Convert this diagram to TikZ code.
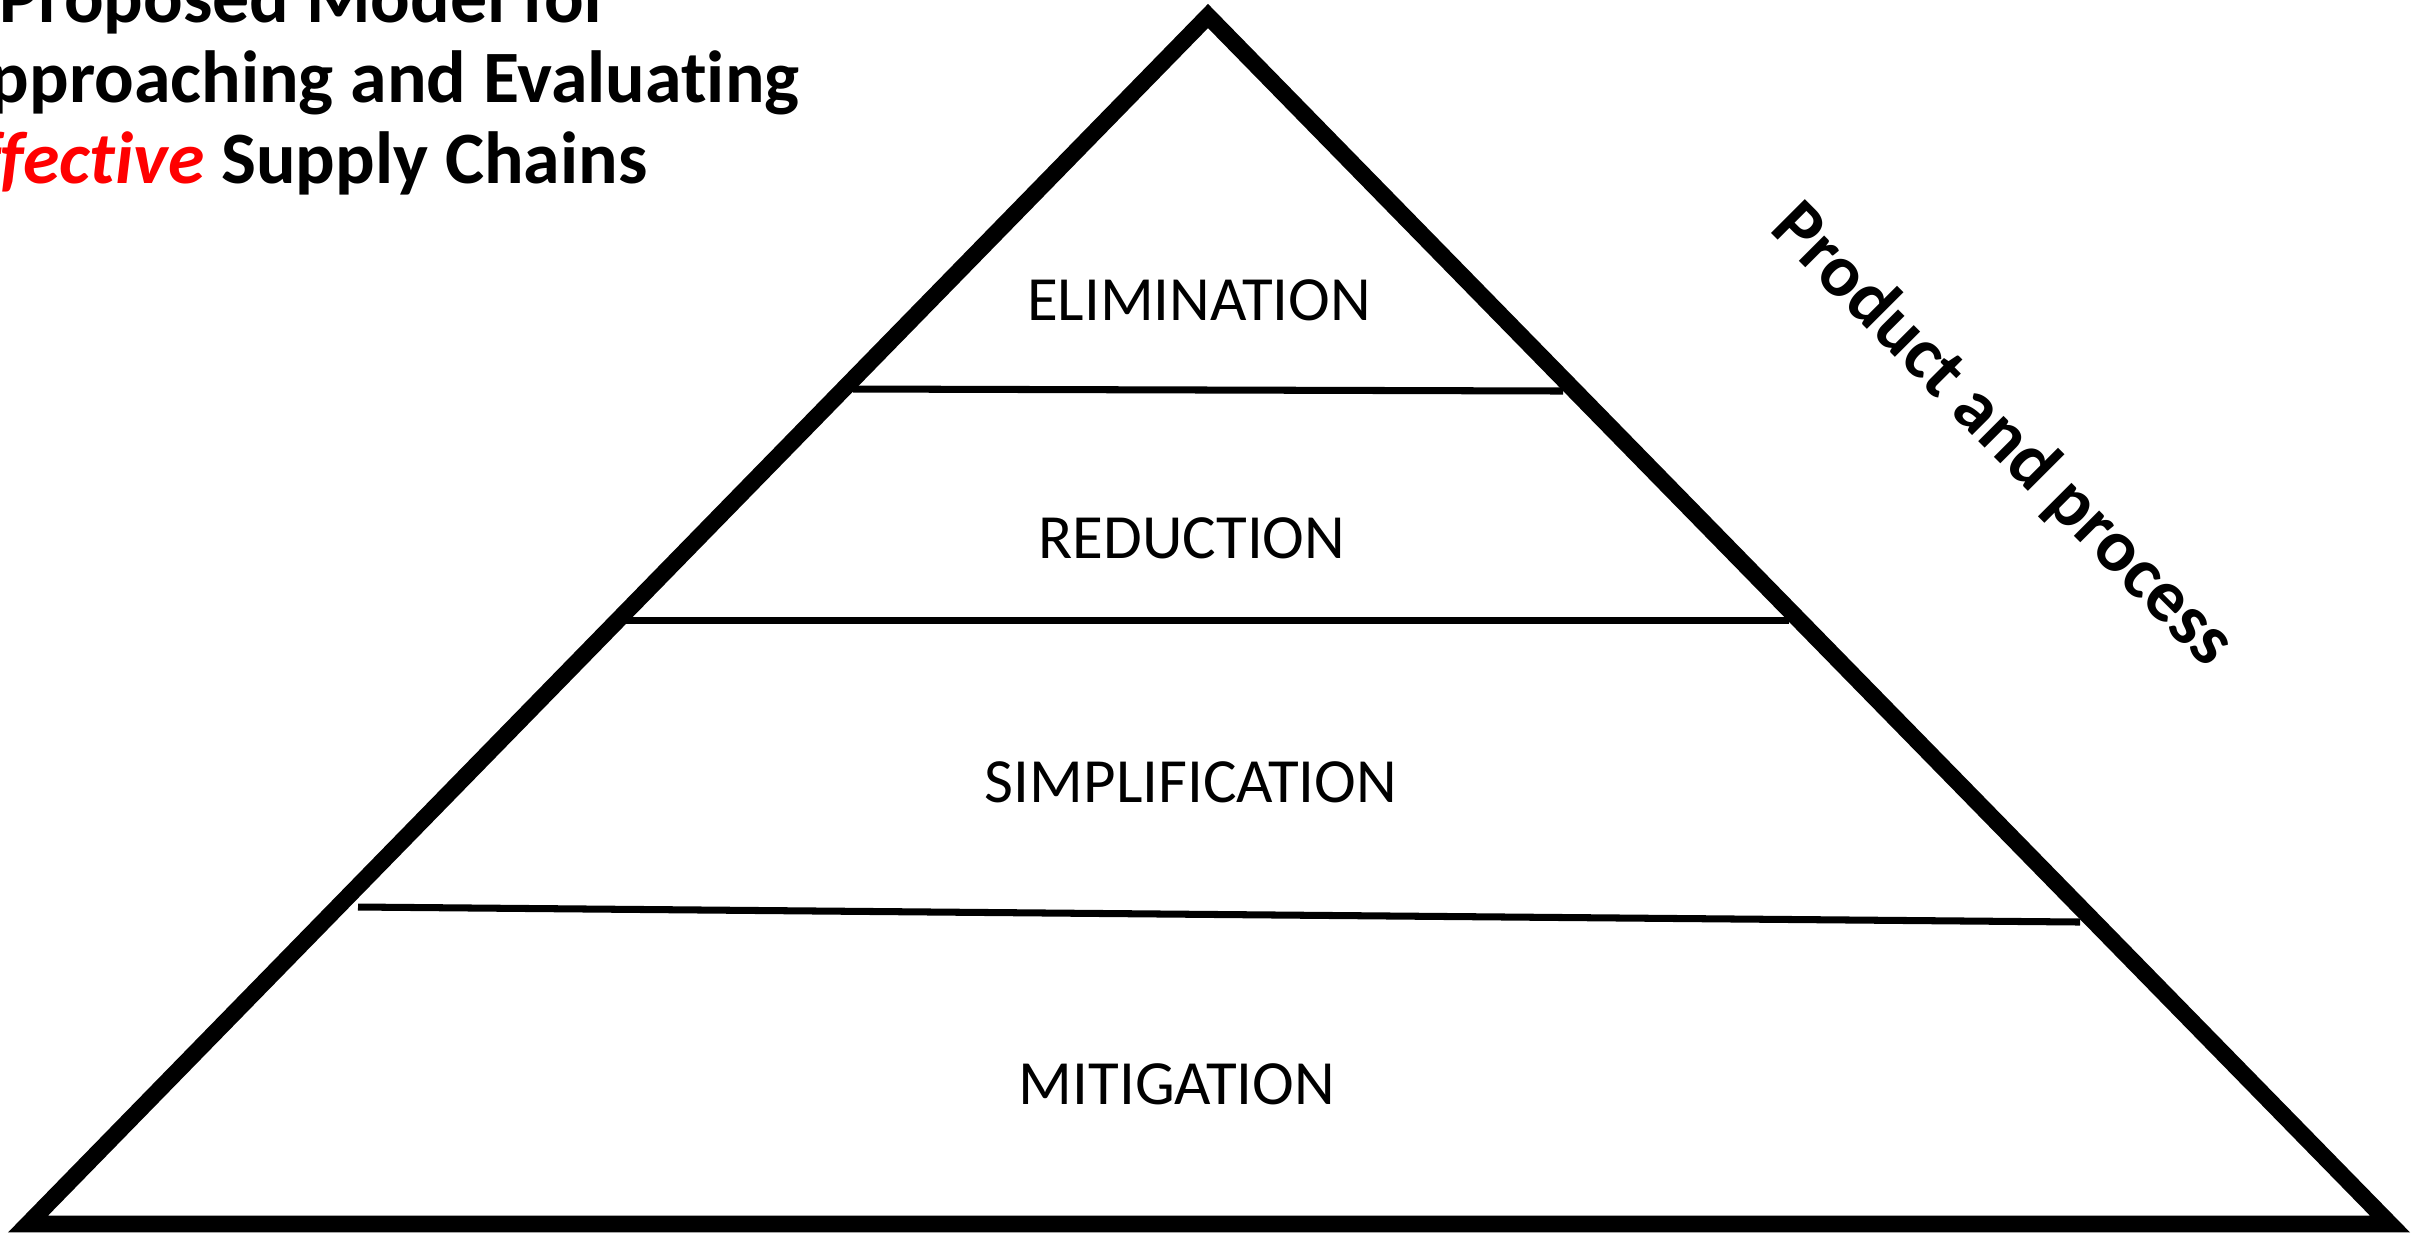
\documentclass[tikz,border=0pt]{standalone}
\usepackage{fontspec}
\setmainfont{Carlito}[Ligatures={NoCommon}]
\definecolor{accentred}{RGB}{255,0,0}
\tikzset{
  pyramid/.style={draw=black, line width=4.8pt, line join=miter},
  tier/.style={draw=black, line width=2pt},
  tierlabel/.style={inner sep=0pt, font=\fontsize{17.9}{21}\selectfont},
  titleline/.style={inner sep=0pt, anchor=base east, font=\fontsize{21}{23}\selectfont\bfseries},
  sidetext/.style={inner sep=0pt, font=\fontsize{21}{23}\selectfont\bfseries}
}
\begin{document}
\begin{tikzpicture}[x=0.01cm, y=-0.01cm]
  % page area (pixel grid, y pointing down)
  \clip (0,0) rectangle (2412,1232);
  \useasboundingbox (0,0) rectangle (2412,1232);

  % title block, partly running off the left edge
  \node[titleline] (title1) at (611,22) {Proposed Model for};
  \node[titleline] (title2) at (800,102) {Approaching and Evaluating};
  \node[titleline] (title3) at (648,183) {\textcolor{accentred}{\itshape Effective} Supply Chains};

  % pyramid outline
  \coordinate (apex) at (1208,16);
  \coordinate (baseL) at (28,1224);
  \coordinate (baseR) at (2390,1224);
  \draw[pyramid] (baseL) -- (apex) -- (baseR) -- cycle;

  % tier dividers
  \coordinate (d1L) at (853,389);
  \coordinate (d1R) at (1563,391);
  \coordinate (d2L) at (626,620);
  \coordinate (d2R) at (1789,620);
  \coordinate (d3L) at (358,907);
  \coordinate (d3R) at (2080,922);
  \draw[tier] (d1L) -- (d1R);
  \draw[tier] (d2L) -- (d2R);
  \draw[tier] (d3L) -- (d3R);

  % tier names
  \node[tierlabel, anchor=base] (elim) at (1199,320) {ELIMINATION};
  \node[tierlabel, anchor=base] (redu) at (1192,558) {REDUCTION};
  \node[tierlabel, anchor=base] (simp) at (1191,802) {SIMPLIFICATION};
  \node[tierlabel, anchor=base] (miti) at (1177,1104) {MITIGATION};

  % label along the right flank
  \node[sidetext, rotate=-45] (flank) at (2002,436) {Product and process};
\end{tikzpicture}
\end{document}
